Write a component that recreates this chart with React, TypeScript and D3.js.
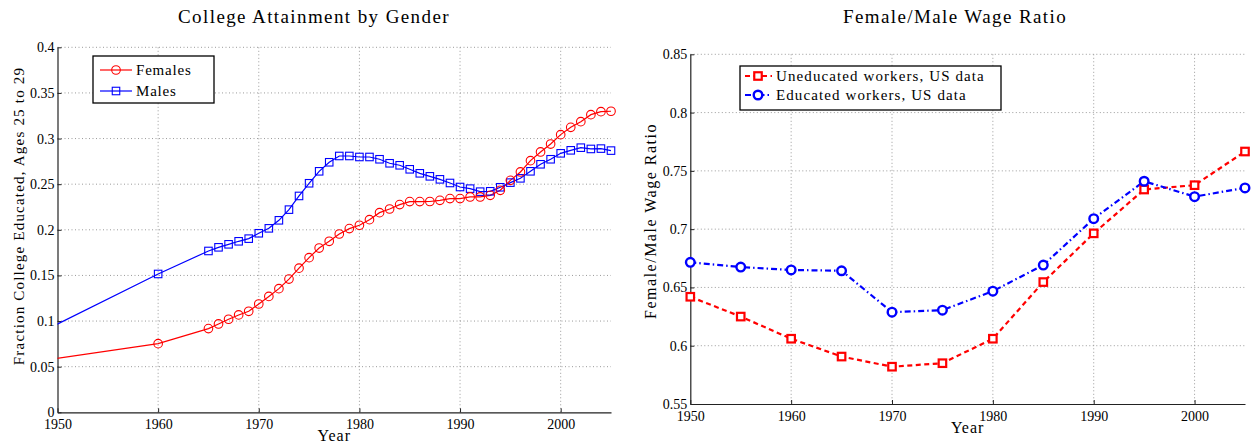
import React, { useEffect, useRef } from 'react'
import * as d3 from 'd3'

// college attainment, ages 25-29 (1940 point only feeds the clipped segment into 1950)
const attainYears = [
  1940, 1960, 1965, 1966, 1967, 1968, 1969, 1970, 1971, 1972, 1973, 1974, 1975,
  1976, 1977, 1978, 1979, 1980, 1981, 1982, 1983, 1984, 1985, 1986, 1987, 1988,
  1989, 1990, 1991, 1992, 1993, 1994, 1995, 1996, 1997, 1998, 1999, 2000, 2001,
  2002, 2003, 2004, 2005
]
const females = [
  0.043, 0.0752, 0.0917, 0.0968, 0.102, 0.1067, 0.1107, 0.1187, 0.127, 0.1355,
  0.146, 0.158, 0.1695, 0.18, 0.1874, 0.1954, 0.2013, 0.205, 0.2111, 0.2188,
  0.2228, 0.2276, 0.2309, 0.2309, 0.231, 0.2323, 0.2342, 0.2342, 0.236, 0.236,
  0.2378, 0.2433, 0.2542, 0.2634, 0.2758, 0.2853, 0.294, 0.3043, 0.3123,
  0.3185, 0.3262, 0.3295, 0.3299
]
const males = [
  0.042, 0.1516, 0.1768, 0.1808, 0.1841, 0.1874, 0.1903, 0.1962, 0.2016,
  0.2104, 0.2221, 0.2371, 0.251, 0.2641, 0.274, 0.2809, 0.2809, 0.2798, 0.2798,
  0.2773, 0.2729, 0.2707, 0.2663, 0.2619, 0.2586, 0.2553, 0.2513, 0.2469,
  0.2451, 0.2418, 0.2422, 0.2466, 0.2517, 0.2564, 0.2641, 0.2718, 0.2773,
  0.2838, 0.2871, 0.29, 0.2886, 0.289, 0.2868
]

// wage ratios
const wageYears = [1950, 1955, 1960, 1965, 1970, 1975, 1980, 1985, 1990, 1995, 2000, 2005]
const uneducated = [0.642, 0.625, 0.606, 0.5907, 0.582, 0.585, 0.606, 0.6546, 0.6964, 0.734, 0.7377, 0.7666]
const educated = [0.6715, 0.6675, 0.665, 0.6643, 0.6288, 0.6305, 0.6468, 0.6692, 0.709, 0.7411, 0.7279, 0.7354]

const xTicks = [1950, 1960, 1970, 1980, 1990, 2000]
const leftYTicks = [0, 0.05, 0.1, 0.15, 0.2, 0.25, 0.3, 0.35, 0.4]
const leftYLabels = ['0', '0.05', '0.1', '0.15', '0.2', '0.25', '0.3', '0.35', '0.4']
const rightYTicks = [0.55, 0.6, 0.65, 0.7, 0.75, 0.8, 0.85]
const rightYLabels = ['0.55', '0.6', '0.65', '0.7', '0.75', '0.8', '0.85']

const FONT = '"Liberation Serif", "Times New Roman", serif'

function drawPanel(svg, o) {
  const x = d3.scaleLinear().domain([1950, 2005]).range([o.left, o.right])
  const y = d3.scaleLinear().domain(o.yDomain).range([o.bottom, o.top])
  const g = svg.append('g')

  // dotted grid
  g.selectAll('.hgrid')
    .data(o.yTicks.slice(1))
    .enter()
    .append('line')
    .attr('x1', o.left)
    .attr('x2', o.right)
    .attr('y1', d => y(d))
    .attr('y2', d => y(d))
    .attr('stroke', '#9a9a9a')
    .attr('stroke-width', 1)
    .attr('stroke-dasharray', '1,2.5')
  g.selectAll('.vgrid')
    .data(xTicks.slice(1))
    .enter()
    .append('line')
    .attr('x1', d => x(d))
    .attr('x2', d => x(d))
    .attr('y1', o.top)
    .attr('y2', o.bottom)
    .attr('stroke', '#9a9a9a')
    .attr('stroke-width', 1)
    .attr('stroke-dasharray', '1,2.5')

  const yAxis = g
    .append('g')
    .attr('transform', 'translate(' + o.left + ',0)')
    .call(
      d3.axisLeft(y)
        .tickValues(o.yTicks)
        .tickFormat((d, i) => o.yLabels[i])
        .tickSizeInner(-4)
        .tickSizeOuter(0)
        .tickPadding(3)
    )
  const xAxis = g
    .append('g')
    .attr('transform', 'translate(0,' + o.bottom + ')')
    .call(
      d3.axisBottom(x)
        .tickValues(xTicks)
        .tickFormat(d3.format('d'))
        .tickSizeInner(-4)
        .tickSizeOuter(0)
        .tickPadding(o.xPad)
    )
  ;[yAxis, xAxis].forEach(a => {
    a.selectAll('text')
      .attr('fill', '#000')
      .style('font-family', FONT)
      .style('font-size', '14px')
    a.selectAll('line').attr('stroke', '#222')
    a.select('.domain').attr('stroke', '#222').attr('stroke-width', 1.2)
  })

  svg.append('text')
    .attr('x', o.titleX)
    .attr('y', 23)
    .attr('text-anchor', 'middle')
    .attr('font-family', FONT)
    .attr('font-size', 19)
    .attr('letter-spacing', 1.4)
    .text(o.title)

  svg.append('text')
    .attr('x', (o.left + o.right) / 2)
    .attr('y', o.xlabelY)
    .attr('text-anchor', 'middle')
    .attr('font-family', FONT)
    .attr('font-size', 16)
    .attr('letter-spacing', 1)
    .text('Year')

  svg.append('text')
    .attr('transform', 'translate(' + o.ylabelX + ',' + o.ylabelY + ') rotate(-90)')
    .attr('text-anchor', 'middle')
    .attr('font-family', FONT)
    .attr('font-size', o.ylabelSize)
    .attr('letter-spacing', o.ylabelSpacing)
    .text(o.ylabel)

  return { x, y, g }
}

function circleAt(sel, cx, cy, r, color, sw, fill) {
  sel.append('circle')
    .attr('cx', cx)
    .attr('cy', cy)
    .attr('r', r)
    .attr('fill', fill)
    .attr('stroke', color)
    .attr('stroke-width', sw)
}

function squareAt(sel, cx, cy, s, color, sw, fill) {
  sel.append('rect')
    .attr('x', cx - s / 2)
    .attr('y', cy - s / 2)
    .attr('width', s)
    .attr('height', s)
    .attr('fill', fill)
    .attr('stroke', color)
    .attr('stroke-width', sw)
}

export default function App() {
  const ref = useRef(null)

  useEffect(() => {
    const svg = d3.select(ref.current)
    svg.selectAll('*').remove()

    // ---------- left: college attainment ----------
    const L = drawPanel(svg, {
      left: 57.5, right: 611, top: 47.3, bottom: 412.3,
      yDomain: [0, 0.4], yTicks: leftYTicks, yLabels: leftYLabels, xPad: 7,
      title: 'College Attainment by Gender', titleX: 314,
      xlabelY: 441,
      ylabel: 'Fraction College Educated, Ages 25 to 29', ylabelX: 24, ylabelY: 216,
      ylabelSize: 15, ylabelSpacing: 1.2
    })

    svg.append('defs')
      .append('clipPath')
      .attr('id', 'leftClip')
      .append('rect')
      .attr('x', 57.5)
      .attr('y', 40)
      .attr('width', 560)
      .attr('height', 380)

    const attain = attainYears.map((yr, i) => ({ yr, f: females[i], m: males[i] }))
    const lineF = d3.line().x(d => L.x(d.yr)).y(d => L.y(d.f))
    const lineM = d3.line().x(d => L.x(d.yr)).y(d => L.y(d.m))
    const lg = svg.append('g').attr('clip-path', 'url(#leftClip)')
    lg.append('path').attr('d', lineM(attain)).attr('fill', 'none').attr('stroke', '#0000ff').attr('stroke-width', 1.2)
    lg.append('path').attr('d', lineF(attain)).attr('fill', 'none').attr('stroke', '#ff0000').attr('stroke-width', 1.2)
    const shown = attain.filter(d => d.yr >= 1960)
    shown.forEach(d => squareAt(lg, L.x(d.yr), L.y(d.m), 7.5, '#0000ff', 1.1, 'none'))
    shown.forEach(d => circleAt(lg, L.x(d.yr), L.y(d.f), 4.3, '#ff0000', 1.1, 'none'))

    // legend
    const lleg = svg.append('g')
    lleg.append('rect').attr('x', 93).attr('y', 56).attr('width', 121).attr('height', 47)
      .attr('fill', '#fff').attr('stroke', '#000').attr('stroke-width', 1.3)
    const lItems = [
      { name: 'Females', color: '#ff0000', shape: 'c' },
      { name: 'Males', color: '#0000ff', shape: 's' }
    ]
    lItems.forEach((it, i) => {
      const cy = 70 + i * 21
      lleg.append('line').attr('x1', 100).attr('x2', 132).attr('y1', cy).attr('y2', cy)
        .attr('stroke', it.color).attr('stroke-width', 1.2)
      if (it.shape === 'c') circleAt(lleg, 116, cy, 4.3, it.color, 1.1, 'none')
      else squareAt(lleg, 116, cy, 7.5, it.color, 1.1, 'none')
      lleg.append('text').attr('x', 136).attr('y', cy).attr('dy', '0.33em')
        .attr('font-family', FONT).attr('font-size', 15).attr('letter-spacing', 0.8)
        .text(it.name)
    })

    // ---------- right: wage ratio ----------
    const R = drawPanel(svg, {
      left: 690.3, right: 1245, top: 54.3, bottom: 404,
      yDomain: [0.55, 0.85], yTicks: rightYTicks, yLabels: rightYLabels, xPad: 7,
      title: 'Female/Male Wage Ratio', titleX: 955,
      xlabelY: 433,
      ylabel: 'Female/Male Wage Ratio', ylabelX: 656, ylabelY: 221,
      ylabelSize: 16, ylabelSpacing: 1.5
    })

    const wage = wageYears.map((yr, i) => ({ yr, u: uneducated[i], e: educated[i] }))
    const lineU = d3.line().x(d => R.x(d.yr)).y(d => R.y(d.u))
    const lineE = d3.line().x(d => R.x(d.yr)).y(d => R.y(d.e))
    const rg = svg.append('g')
    rg.append('path').attr('d', lineU(wage)).attr('fill', 'none').attr('stroke', '#ff0000')
      .attr('stroke-width', 2.2).attr('stroke-dasharray', '5,3.5')
    rg.append('path').attr('d', lineE(wage)).attr('fill', 'none').attr('stroke', '#0000ff')
      .attr('stroke-width', 2.2).attr('stroke-dasharray', '6,3,1.5,3')
    wage.forEach(d => squareAt(rg, R.x(d.yr), R.y(d.u), 7.5, '#ff0000', 2.2, '#fff'))
    wage.forEach(d => circleAt(rg, R.x(d.yr), R.y(d.e), 4.3, '#0000ff', 2.4, '#fff'))

    const rleg = svg.append('g')
    rleg.append('rect').attr('x', 740).attr('y', 66).attr('width', 261).attr('height', 44)
      .attr('fill', '#fff').attr('stroke', '#000').attr('stroke-width', 1.3)
    const rItems = [
      { name: 'Uneducated workers, US data', color: '#ff0000', shape: 's', dash: '5,3.5' },
      { name: 'Educated workers, US data', color: '#0000ff', shape: 'c', dash: '6,3,1.5,3' }
    ]
    rItems.forEach((it, i) => {
      const cy = 76 + i * 19
      rleg.append('line').attr('x1', 745).attr('x2', 772).attr('y1', cy).attr('y2', cy)
        .attr('stroke', it.color).attr('stroke-width', 2.2).attr('stroke-dasharray', it.dash)
      if (it.shape === 'c') circleAt(rleg, 758, cy, 4.3, it.color, 2.4, '#fff')
      else squareAt(rleg, 758, cy, 7.5, it.color, 2.2, '#fff')
      rleg.append('text').attr('x', 776).attr('y', cy).attr('dy', '0.33em')
        .attr('font-family', FONT).attr('font-size', 15).attr('letter-spacing', 1.1)
        .text(it.name)
    })
  }, [])

  return (
    <svg
      ref={ref}
      width={1259}
      height={444}
      style={{ position: 'absolute', left: 0, top: 0, background: '#fff' }}
    />
  )
}
